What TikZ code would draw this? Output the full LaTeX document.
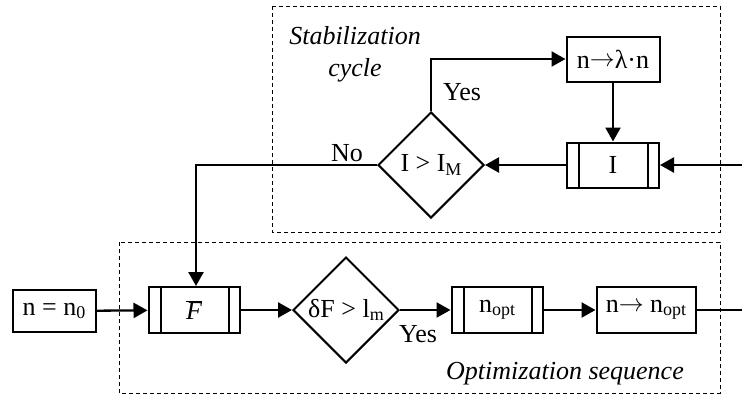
\documentclass[tikz,border=0pt]{standalone}
\usepackage{fontspec}
\setmainfont{Liberation Serif}
\usetikzlibrary{shapes.geometric,arrows.meta}
\newcommand{\lowsub}[1]{{\fontsize{18}{20}\selectfont\raisebox{-0.18em}{#1}}}
\newcommand{\longarr}{\raisebox{0.05em}{$\rightarrow$}}
\tikzset{
  txt/.style={font=\fontsize{26}{29}\selectfont},
  plainbox/.style={txt, draw, line width=2pt, minimum width=92pt, minimum height=46pt, inner sep=0pt},
  procbox/.style={plainbox, path picture={
      \draw[line width=2pt] ([xshift=12pt]path picture bounding box.north west) -- ([xshift=12pt]path picture bounding box.south west);
      \draw[line width=2pt] ([xshift=-11pt]path picture bounding box.north east) -- ([xshift=-11pt]path picture bounding box.south east);}},
  decision/.style={txt, draw, diamond, line width=2pt, minimum width=106pt, minimum height=106pt, inner sep=0pt, aspect=1},
  arr/.style={line width=2.3pt, -{Triangle[length=14pt,width=15pt]}},
  conn/.style={line width=2.3pt},
  groupbox/.style={line width=1pt, dash pattern=on 4pt off 3pt},
  lbl/.style={txt, inner sep=0pt},
}
\begin{document}
\begin{tikzpicture}[x=1pt,y=-1pt]
\useasboundingbox (0,0) rectangle (742,397);
% group frames
\draw[groupbox] (272,6) rectangle (720,232);
\draw[groupbox] (119,242) rectangle (720,393);
\node[lbl, font=\fontsize{26}{32}\selectfont\itshape, align=center] (stab) at (355,54) {Stabilization\\cycle};
\node[lbl, font=\fontsize{26}{29}\selectfont\itshape] (opt) at (565,374) {Optimization sequence};
% top row
\node[plainbox, minimum width=93pt, minimum height=45pt] (lam) at (613,59) {n\longarr λ·n};
\node[procbox, minimum width=92pt, minimum height=45pt] (I) at (613,165) {I};
\node[decision] (d1) at (431,165) {I > I\lowsub{M}};
% bottom row
\node[plainbox, minimum width=83pt, minimum height=42pt] (n0) at (54,311) {n = n\lowsub{0}};
\node[procbox, minimum width=91pt] (F) at (194,310) {$\overline{\textit{F}}$};
\node[decision] (d2) at (346,310) {δF > l\lowsub{m}};
\node[procbox, minimum width=91pt] (nopt) at (497,310) {n\lowsub{opt}};
\node[plainbox, minimum width=99pt] (nto) at (646,310) {n\longarr\ n\lowsub{opt}};
% labels
\node[lbl] (yes1) at (462,92) {Yes};
\node[lbl] (no) at (347,153) {No};
\node[lbl] (yes2) at (418,334) {Yes};
% free ends
\coordinate (inR) at (742,165);
\coordinate (outR) at (742,310);
% connectors
\draw[arr] (d1.north) |- (lam.west);
\draw[arr] (lam) -- (I);
\draw[arr] (inR) -- (I.east);
\draw[arr] (I) -- (d1);
\draw[arr] (d1.west) -| ([xshift=2pt]F.north);
\draw[arr] (n0) -- (F);
\draw[arr] (F) -- (d2);
\draw[arr] (d2) -- (nopt);
\draw[arr] (nopt) -- (nto);
\draw[conn] (nto) -- (outR);
\end{tikzpicture}
\end{document}
